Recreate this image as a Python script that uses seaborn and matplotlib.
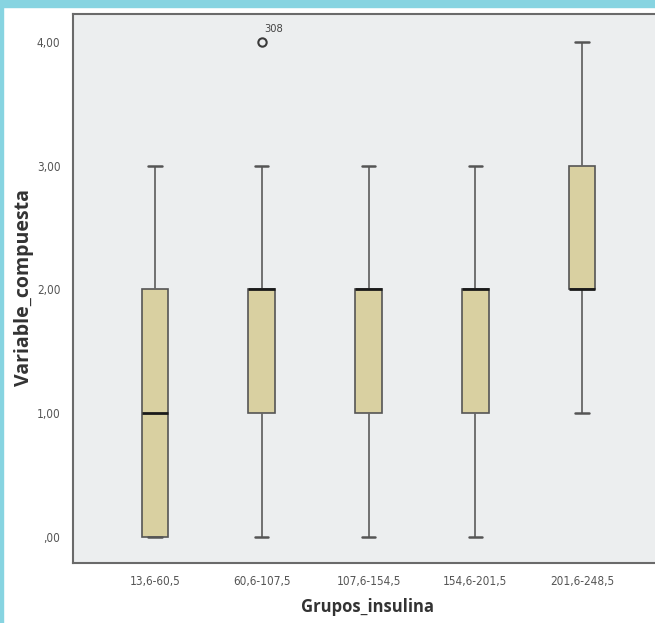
import matplotlib
matplotlib.use("Agg")
import matplotlib.pyplot as plt
from matplotlib.patches import Rectangle
import seaborn as sns
import pandas as pd

# Insulin groups and the composite score observed in each one
groups = ["13,6-60,5", "60,6-107,5", "107,6-154,5", "154,6-201,5", "201,6-248,5"]
scores_g1 = [0, 0, 1, 2, 3]
scores_g2 = [0, 1, 1, 2, 2, 2, 2, 3, 4]
scores_g3 = [0, 1, 1, 2, 2, 2, 2, 3]
scores_g4 = [0, 1, 1, 2, 2, 2, 2, 3]
scores_g5 = [1, 2, 2, 2, 3, 3, 4]
outlier_case = "308"
y_ticks = [0, 1, 2, 3, 4]
y_ticklabels = [",00", "1,00", "2,00", "3,00", "4,00"]

rows = []
for g, vals in zip(groups, [scores_g1, scores_g2, scores_g3, scores_g4, scores_g5]):
    rows += [(g, v) for v in vals]
df = pd.DataFrame(rows, columns=["Grupos_insulina", "Variable_compuesta"])

sns.set_style("white")
fig = plt.figure(figsize=(6.55, 6.23), dpi=100)
W, H = 655, 623

# light blue frame strips
fig.patches.append(Rectangle((0, 1 - 7 / H), 1, 7 / H, transform=fig.transFigure,
                             color="#87d4e1", zorder=0))
fig.patches.append(Rectangle((0, 0), 3 / W, 1, transform=fig.transFigure,
                             color="#87d4e1", zorder=0))

left, right, top, bottom = 73, 664, 14, 563
ax = fig.add_axes([left / W, 1 - bottom / H, (right - left) / W, (bottom - top) / H])
ax.set_facecolor("#eceeef")

sns.boxplot(
    data=df, x="Grupos_insulina", y="Variable_compuesta", order=groups,
    color="#d9d0a1", saturation=1, width=0.25, linecolor="#555555", linewidth=1.2,
    fliersize=6,
    flierprops=dict(marker="o", markerfacecolor="none", markeredgecolor="#3a3a3a",
                    markeredgewidth=1.5),
    medianprops=dict(color="#1a1a1a", linewidth=2.0),
    whiskerprops=dict(color="#666666", linewidth=1.3),
    capprops=dict(color="#555555", linewidth=1.8),
    ax=ax,
)

small_font = dict(family="DejaVu Sans", stretch="condensed")

ax.annotate(outlier_case, xy=(1, scores_g2[-1]), xytext=(2, 7), textcoords="offset points",
            fontsize=8, color="#444444", **small_font)

ax.set_xlim(-0.768, 4.768)
ax.set_ylim(-0.21, 4.226)
ax.set_yticks(y_ticks)
ax.set_yticklabels(y_ticklabels)

for s in ["left", "bottom", "top"]:
    ax.spines[s].set_color("#6a6a6a")
    ax.spines[s].set_linewidth(1.5)
ax.spines["right"].set_visible(False)

ax.tick_params(axis="both", direction="out", length=5, width=1.3, color="#555555",
               labelsize=8.5, labelcolor="#555555", pad=4)
for lab in ax.get_xticklabels() + ax.get_yticklabels():
    lab.set_family(small_font["family"])
    lab.set_stretch(small_font["stretch"])

ax.set_xlabel("Grupos_insulina", fontsize=12, fontweight="bold", color="#333333",
              family=["Open Sans", "DejaVu Sans"])
ax.set_ylabel("Variable_compuesta", fontsize=14, fontweight="bold", color="#333333",
              family=["Open Sans", "DejaVu Sans"])
ax.xaxis.set_label_coords(0.5 - (664 + 73 - 2 * 368) / 2 / (right - left),
                          -(607 - bottom) / (bottom - top))
ax.xaxis.label.set_va("center")
ax.yaxis.set_label_coords(-(left - 24) / (right - left), 0.5 - (287 - (top + bottom) / 2) / (bottom - top))
ax.yaxis.label.set_va("center")

fig.savefig("out.png", dpi=100)
